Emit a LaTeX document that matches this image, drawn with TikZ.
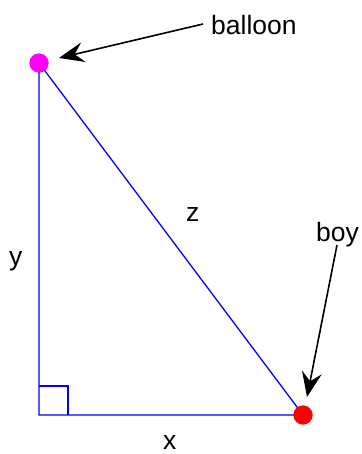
\documentclass[tikz,border=0pt]{standalone}
\usepackage{fontspec}
\setmainfont{Liberation Sans}
\usetikzlibrary{arrows.meta}
\definecolor{balloonc}{RGB}{255,0,255}
\definecolor{boyc}{RGB}{255,0,0}
\begin{document}
\begin{tikzpicture}[x=1pt,y=-1pt,
  side/.style={draw=blue,line width=1.3pt},
  dot/.style={circle,inner sep=0pt,minimum size=19pt},
  lbl/.style={anchor=base west,inner sep=0pt,font=\fontsize{26.5}{30}\selectfont},
  pointer/.style={draw=black,line width=1.6pt,-{Stealth[length=25pt,width=20pt,inset=9pt]}}]
\useasboundingbox (0,0) rectangle (361,454);
\coordinate (C) at (39,415);
\node[dot,fill=balloonc] (A) at (39,63) {};
\node[dot,fill=boyc] (B) at (303,415) {};
\draw[side] (A.center) -- (C) -- (B.center) -- cycle;
\draw[side] (39,386) -- (68,386) -- (68,415);
\node[dot,fill=balloonc] at (A) {};
\node[dot,fill=boyc] at (B) {};
\node[lbl] (tb) at (211,35) {balloon};
\node[lbl] (tboy) at (316,241) {boy};
\node[lbl] (tz) at (186,221) {z};
\node[lbl] (ty) at (9,265.5) {y};
\node[lbl] (tx) at (163,449) {x};
\coordinate (t1) at (203,24);
\coordinate (h1) at (59,58);
\coordinate (t2) at (337,245);
\coordinate (h2) at (307,397);
\draw[pointer] (t1) -- (h1);
\draw[pointer] (t2) -- (h2);
\end{tikzpicture}
\end{document}
